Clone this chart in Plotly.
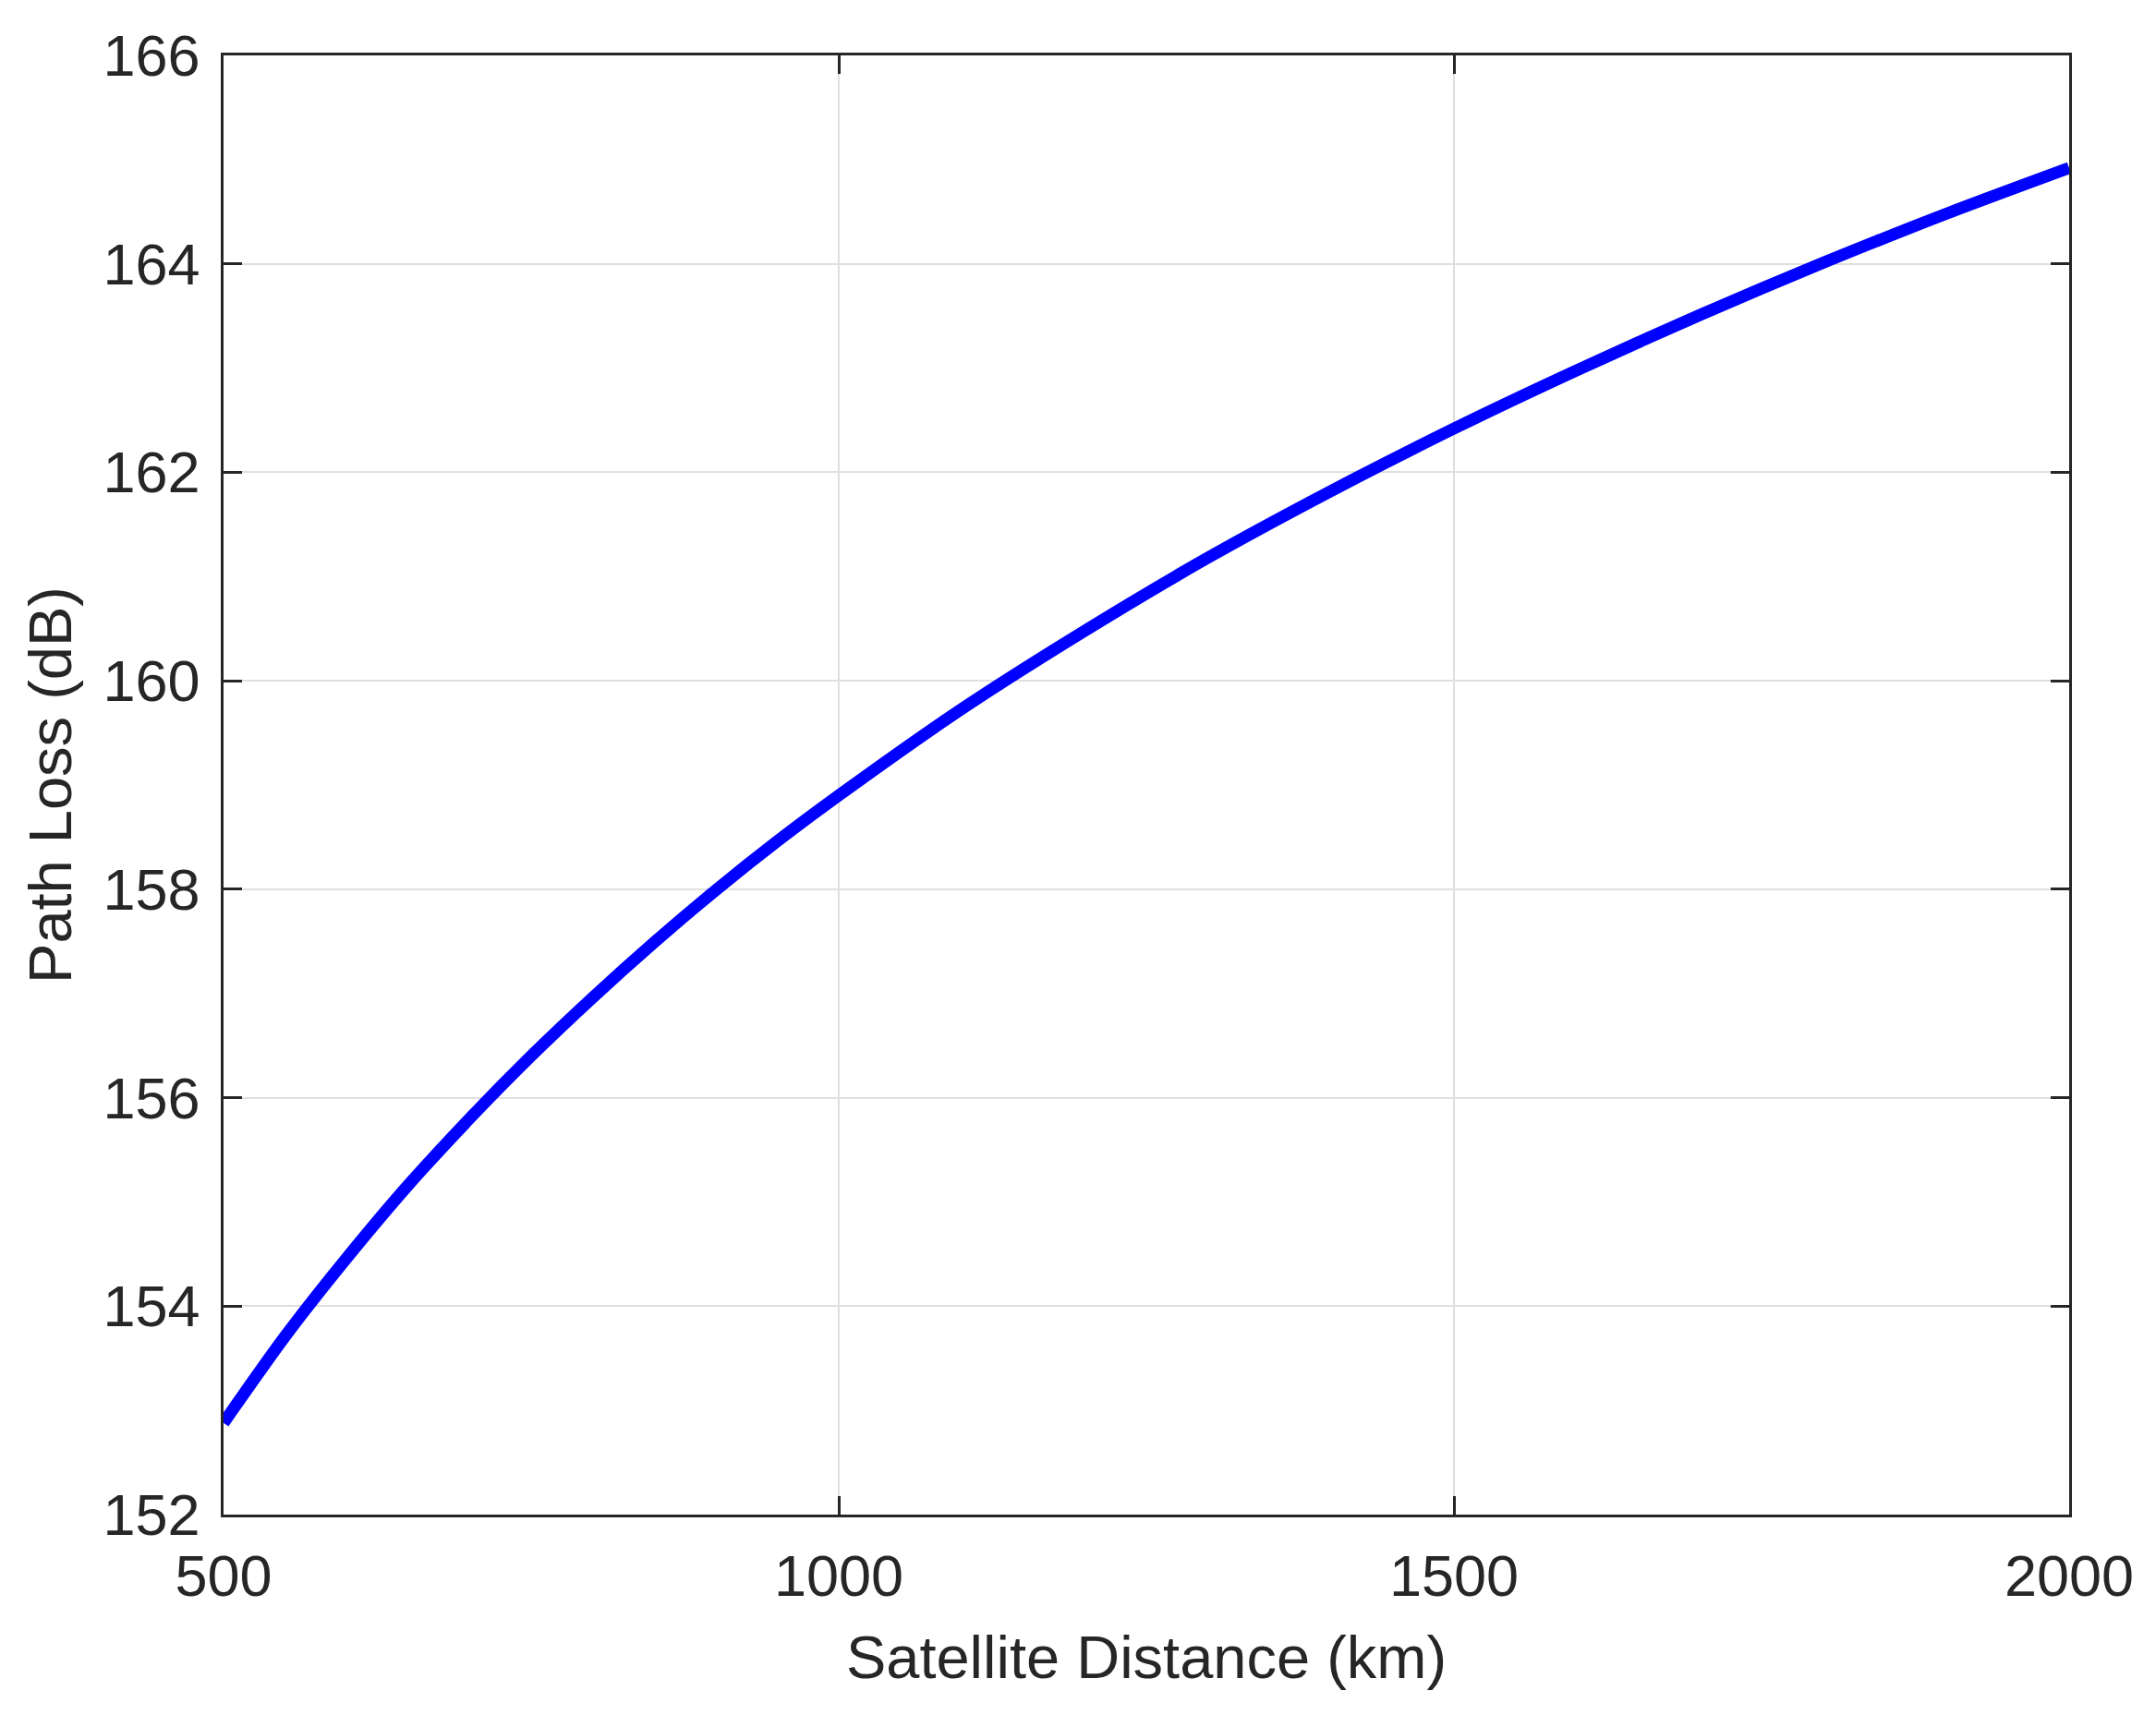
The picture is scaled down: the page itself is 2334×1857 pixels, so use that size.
import plotly.graph_objects as go

# satellite distance (km) and path loss (dB)
distance_km = [500, 550, 600, 650, 700, 750, 800, 850, 900, 950, 1000,
               1100, 1200, 1300, 1400, 1500, 1600, 1700, 1800, 1900, 2000]
path_loss_db = [152.88, 153.71, 154.46, 155.16, 155.80, 156.40, 156.96, 157.49,
                157.99, 158.46, 158.90, 159.73, 160.48, 161.18, 161.82, 162.42,
                162.98, 163.51, 164.01, 164.48, 164.92]

x_ticks = [500, 1000, 1500, 2000]
y_ticks = [152, 154, 156, 158, 160, 162, 164, 166]

AXIS_COLOR = "#262626"
FONT = "Liberation Sans, Arial, sans-serif"

fig = go.Figure()
fig.add_trace(go.Scatter(
    x=distance_km, y=path_loss_db, mode="lines",
    line=dict(color="#0000ff", width=13, shape="spline", smoothing=0.8),
    showlegend=False,
))

axis_common = dict(
    showline=True, linecolor=AXIS_COLOR, linewidth=2.5, mirror="ticks",
    ticks="inside", ticklen=20, tickwidth=2.5, tickcolor=AXIS_COLOR,
    showgrid=True, gridcolor="#dfdfdf", gridwidth=1.5,
    zeroline=False,
    tickfont=dict(family=FONT, size=63, color=AXIS_COLOR),
)

fig.update_xaxes(
    range=[500, 2000], tickvals=x_ticks, ticktext=[str(v) for v in x_ticks],
    title=dict(text="Satellite Distance (km)", font=dict(family=FONT, size=65, color=AXIS_COLOR), standoff=32),
    ticklabelstandoff=10,
    **axis_common,
)
fig.update_yaxes(
    range=[152, 166], tickvals=y_ticks, ticktext=[str(v) for v in y_ticks],
    title=dict(text="Path Loss (dB)", font=dict(family=FONT, size=65, color=AXIS_COLOR), standoff=13),
    ticklabelstandoff=10,
    **axis_common,
)

# the page body adds an 8px offset, so the margins are shifted to compensate
fig.update_layout(
    width=2334, height=1857,
    margin=dict(l=234, r=102, t=52, b=225),
    plot_bgcolor="white", paper_bgcolor="white",
)

fig.write_html("out.html")
